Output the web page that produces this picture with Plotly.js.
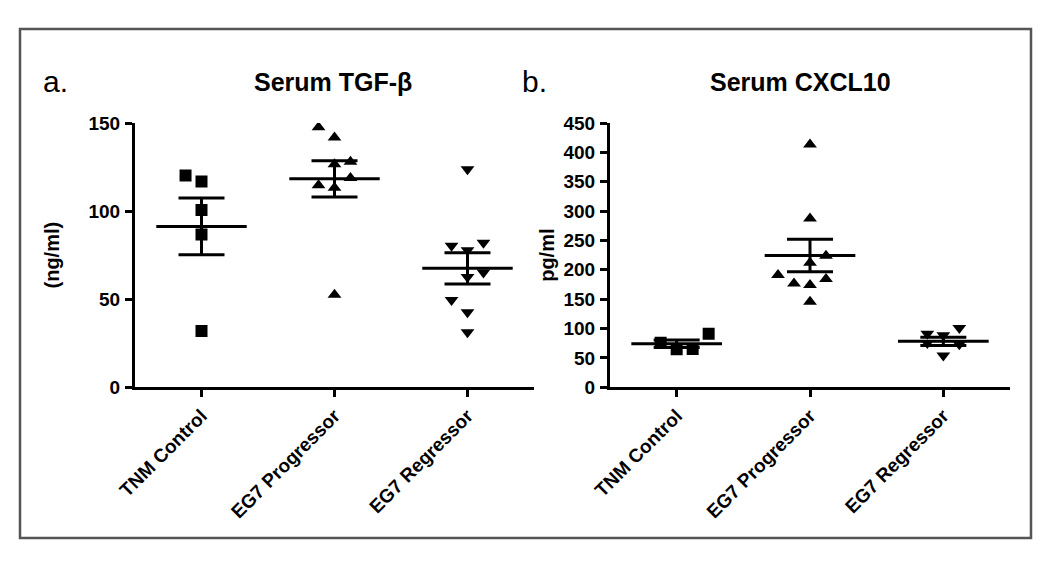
<!DOCTYPE html>
<html>
<head>
<meta charset="utf-8">
<script src="https://cdn.plot.ly/plotly-3.0.1.min.js"></script>
<style>html,body{margin:0;padding:0;background:#fff;}#chart{width:1050px;height:563px;}</style>
</head>
<body>
<div id="chart"></div>
<script>
// ---- data ----
const categories = ['TNM Control', 'EG7 Progressor', 'EG7 Regressor'];
const tickPositions = [0, 1, 2];

// Panel a: Serum TGF-beta (ng/ml)
const tgfTNM  = [120.2, 116.8, 100.6, 86.7, 31.9];
const tgfProg = [147.6, 141.7, 128.0, 126.6, 118.8, 114.7, 113.3, 52.5];
const tgfReg  = [123.8, 82.0, 80.4, 77.8, 62.6, 65.2, 49.6, 42.6, 31.2];
const tgfMean = [91.3, 118.3, 67.5];
const tgfSem  = [16.1, 10.25, 8.9];

// Panel b: Serum CXCL10 (pg/ml)
const cxTNM  = [76.0, 64.6, 65.2, 91.2];
const cxProg = [413.2, 287.3, 223.9, 212.0, 191.0, 184.2, 176.8, 174.0, 145.7];
const cxReg  = [91.2, 88.6, 101.0, 75.3, 73.3, 54.0];
const cxMean = [74.2, 224.4, 78.2];
const cxSem  = [6.5, 27.5, 7.1];

// horizontal scatter spread of points within each group (layout, not data)
const jTgfTNM  = [-0.12, 0, 0, 0, 0];
const jTgfProg = [-0.12, 0, 0.12, 0, 0.12, -0.12, 0, 0];
const jTgfReg  = [0, 0.12, -0.12, 0, 0, 0.12, -0.12, 0, 0];
const jCxTNM   = [-0.12, 0, 0.12, 0.24];
const jCxProg  = [0, 0, 0.12, 0, -0.24, 0.12, -0.12, 0, 0];
const jCxReg   = [-0.12, 0, 0.12, -0.12, 0.12, 0];

// ---- build traces ----
const FONT = 'Liberation Sans, Arial, Helvetica, sans-serif';
const symbols = ['square', 'triangle-up', 'triangle-down'];
const MEAN_HALF = 0.34;

function pointsTrace(vals, jit, gi, ax) {
  return {
    type: 'scatter', mode: 'markers',
    x: vals.map((v, k) => tickPositions[gi] + jit[k]),
    y: vals,
    xaxis: ax.x, yaxis: ax.y,
    marker: { symbol: symbols[gi], size: 12, color: '#000' },
    hoverinfo: 'y', showlegend: false
  };
}
function meanLineTrace(means, ax) {
  const xs = [], ys = [];
  means.forEach((m, i) => {
    xs.push(tickPositions[i] - MEAN_HALF, tickPositions[i] + MEAN_HALF, null);
    ys.push(m, m, null);
  });
  return { type: 'scatter', mode: 'lines', x: xs, y: ys, xaxis: ax.x, yaxis: ax.y,
    line: { color: '#000', width: 3 }, hoverinfo: 'skip', showlegend: false };
}
function semTrace(means, sems, ax) {
  return { type: 'scatter', mode: 'markers', x: tickPositions, y: means,
    xaxis: ax.x, yaxis: ax.y, marker: { size: 1, color: 'rgba(0,0,0,0)' },
    error_y: { type: 'data', array: sems, visible: true, color: '#000', thickness: 3, width: 23 },
    hoverinfo: 'skip', showlegend: false };
}

const A = { x: 'x', y: 'y' }, B = { x: 'x2', y: 'y2' };
const traces = [
  pointsTrace(tgfTNM, jTgfTNM, 0, A),
  pointsTrace(tgfProg, jTgfProg, 1, A),
  pointsTrace(tgfReg, jTgfReg, 2, A),
  meanLineTrace(tgfMean, A),
  semTrace(tgfMean, tgfSem, A),
  pointsTrace(cxTNM, jCxTNM, 0, B),
  pointsTrace(cxProg, jCxProg, 1, B),
  pointsTrace(cxReg, jCxReg, 2, B),
  meanLineTrace(cxMean, B),
  semTrace(cxMean, cxSem, B)
];

const W = 1050, H = 563;
const px = v => v / W, py = v => 1 - v / H;
const tickFont = { family: FONT, size: 19, weight: 'bold', color: '#000' };

function xAxis(domain, anchor) {
  return { domain, anchor, range: [-0.5, 2.5], tickvals: tickPositions, ticktext: categories,
    tickangle: -45, tickfont: tickFont, showline: true, linecolor: '#000', linewidth: 3,
    ticks: 'outside', ticklen: 7, tickwidth: 3, tickcolor: '#000',
    showgrid: false, zeroline: false, fixedrange: true };
}
function yAxis(domain, anchor, range, dtick, title, standoff) {
  return { domain, anchor, range, dtick, tick0: 0, tickfont: tickFont,
    showline: true, linecolor: '#000', linewidth: 3, ticks: 'outside', ticklen: 7,
    tickwidth: 3, tickcolor: '#000', showgrid: false, zeroline: false, fixedrange: true,
    ticklabelstandoff: 1,
    title: { text: title, font: { family: FONT, size: 20, weight: 'bold', color: '#000' }, standoff } };
}

const yDom = [py(387.3), py(123)];
const layout = {
  width: W, height: H,
  margin: { l: 0, r: 0, t: 0, b: 0 },
  paper_bgcolor: '#fff', plot_bgcolor: 'rgba(0,0,0,0)',
  showlegend: false,
  xaxis: xAxis([px(135), px(534)], 'y'),
  yaxis: yAxis(yDom, 'x', [0, 150], 50, '(ng/ml)', 24),
  xaxis2: xAxis([px(610), px(1010)], 'y2'),
  yaxis2: yAxis(yDom, 'x2', [0, 450], 50, 'pg/ml', 4),
  shapes: [{ type: 'rect', xref: 'paper', yref: 'paper',
    x0: px(20), x1: px(1031), y0: py(538), y1: py(29),
    line: { color: '#555', width: 2.5 }, fillcolor: 'rgba(0,0,0,0)', layer: 'below' }],
  annotations: [
    { text: 'a.', xref: 'paper', yref: 'paper', x: px(41), y: py(81), xanchor: 'left', yanchor: 'middle',
      showarrow: false, font: { family: FONT, size: 30, color: '#000' } },
    { text: 'b.', xref: 'paper', yref: 'paper', x: px(520), y: py(81), xanchor: 'left', yanchor: 'middle',
      showarrow: false, font: { family: FONT, size: 30, color: '#000' } },
    { text: 'Serum TGF-β', xref: 'paper', yref: 'paper', x: px(333), y: py(82), xanchor: 'center', yanchor: 'middle',
      showarrow: false, font: { family: FONT, size: 25, weight: 'bold', color: '#000' } },
    { text: 'Serum CXCL10', xref: 'paper', yref: 'paper', x: px(800), y: py(82), xanchor: 'center', yanchor: 'middle',
      showarrow: false, font: { family: FONT, size: 25, weight: 'bold', color: '#000' } }
  ]
};

Plotly.newPlot('chart', traces, layout, { displayModeBar: false, staticPlot: true });
</script>
</body>
</html>
